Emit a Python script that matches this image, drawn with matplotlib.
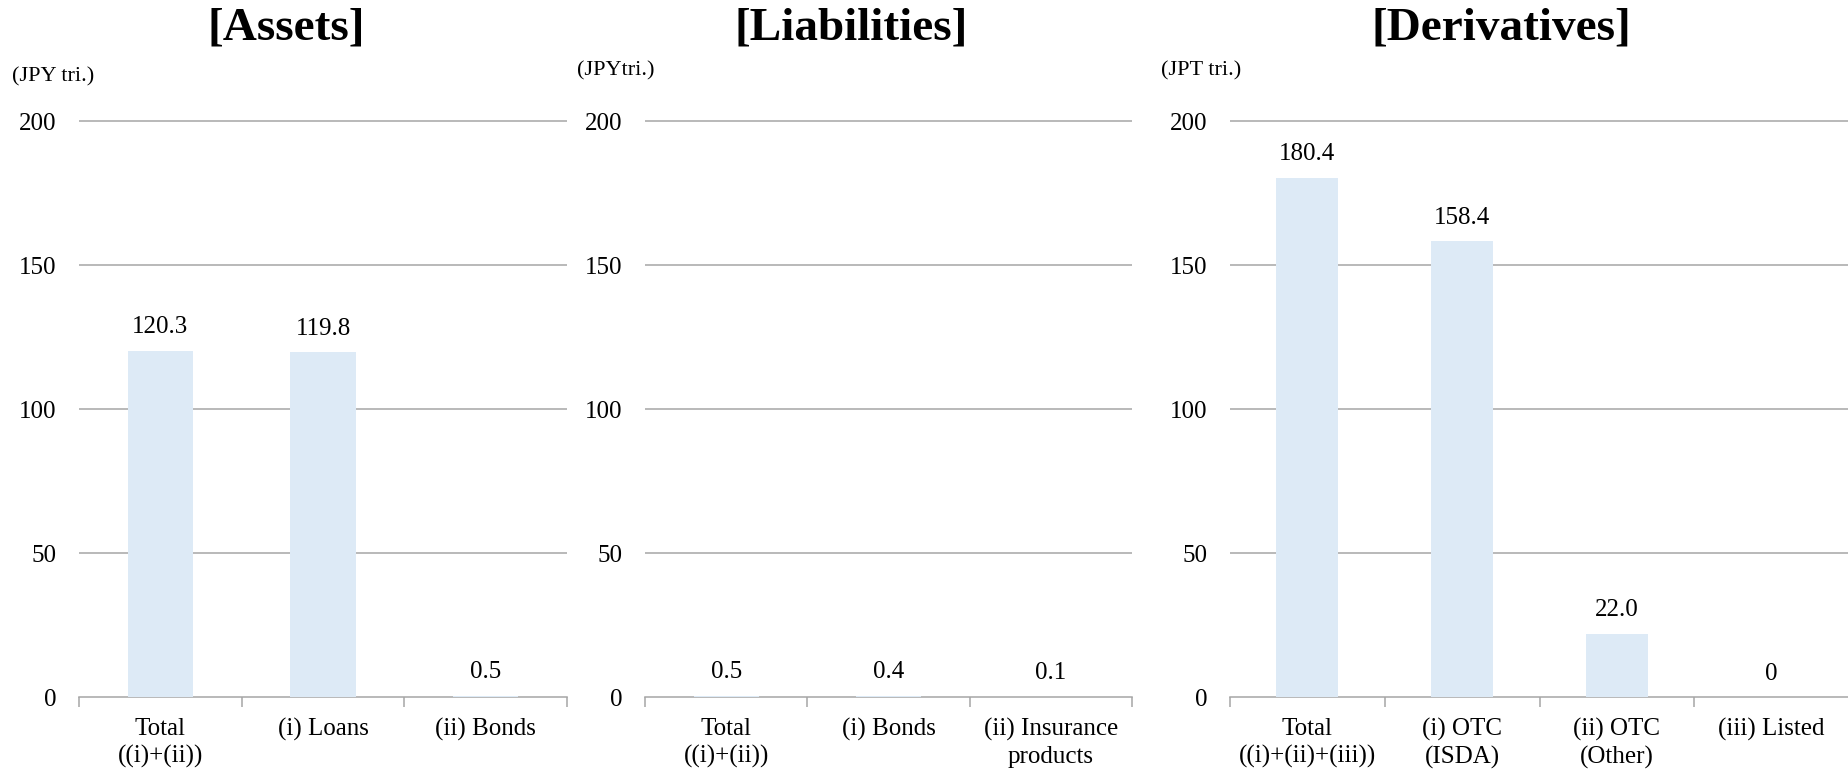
import matplotlib
matplotlib.use('Agg')
import matplotlib.pyplot as plt

plt.rcParams['font.family'] = ['Liberation Serif', 'DejaVu Serif']

# Panel data (JPY trillion)
titles = ['[Assets]', '[Liabilities]', '[Derivatives]']
units = ['(JPY tri.)', '(JPYtri.)', '(JPT tri.)']

assets_labels = ['Total\n((i)+(ii))', '(i) Loans', '(ii) Bonds']
assets_values = [120.3, 119.8, 0.5]
assets_text = ['120.3', '119.8', '0.5']

liab_labels = ['Total\n((i)+(ii))', '(i) Bonds', '(ii) Insurance\nproducts']
liab_values = [0.5, 0.4, 0.1]
liab_text = ['0.5', '0.4', '0.1']

deriv_labels = ['Total\n((i)+(ii)+(iii))', '(i) OTC\n(ISDA)', '(ii) OTC\n(Other)', '(iii) Listed']
deriv_values = [180.4, 158.4, 22.0, 0]
deriv_text = ['180.4', '158.4', '22.0', '0']

yticks = [0, 50, 100, 150, 200]

W, H = 1849, 775
fig = plt.figure(figsize=(W / 100, H / 100), dpi=100)

bar_color = '#DDEAF6'
grid_color = '#A6A6A6'

# pixel layout: (axis left, axis right, title centre x, unit label x, unit label y)
layout = [
    (79, 567, 286, 12, 77),
    (645, 1132, 851, 577, 71),
    (1230, 1849, 1501, 1161, 71),
]
y0_px = 697.0
y200_px = 121.5
ytop = 206
px_per_unit = (y0_px - y200_px) / 200

panels = [
    (assets_labels, assets_values, assets_text),
    (liab_labels, liab_values, liab_text),
    (deriv_labels, deriv_values, deriv_text),
]

for (labels, values, texts), (xl, xr, tx, ux, uy), title, unit in zip(panels, layout, titles, units):
    h_px = ytop * px_per_unit
    ax = fig.add_axes([xl / W, (H - y0_px) / H, (xr - xl) / W, h_px / H])
    n = len(labels)
    x = list(range(n))
    ax.bar(x, values, width=0.4, color=bar_color, zorder=3)
    ax.set_xlim(-0.5, n - 0.5)
    ax.set_ylim(0, ytop)

    for yv in yticks[1:]:
        ax.axhline(yv, color=grid_color, linewidth=1.1, zorder=1)

    for xi, v, t in zip(x, values, texts):
        ax.annotate(t, (xi, v), xytext=(0, 9), textcoords='offset points',
                    ha='center', va='bottom', fontsize=18)

    for s in ['top', 'right', 'left']:
        ax.spines[s].set_visible(False)
    ax.spines['bottom'].set_color(grid_color)
    ax.spines['bottom'].set_linewidth(1.1)

    ax.set_yticks(yticks)
    ax.set_yticklabels([str(v) for v in yticks], fontsize=18)
    ax.tick_params(axis='y', length=0, pad=16)

    # category boundary ticks on the x axis
    ax.set_xticks([i - 0.5 for i in range(n + 1)], minor=False)
    ax.set_xticklabels([''] * (n + 1))
    ax.tick_params(axis='x', which='major', direction='out', length=7,
                   color=grid_color, width=1.1)
    ax.set_xticks(x, minor=True)
    ax.set_xticklabels(labels, minor=True, fontsize=18, linespacing=1.3)
    ax.tick_params(axis='x', which='minor', length=0, pad=15)
    ax.patch.set_alpha(0)

    fig.text(tx / W, 1 - 29 / H, title, ha='center', va='center',
             fontsize=34, fontweight='bold')
    fig.text(ux / W, 1 - uy / H, unit, ha='left', va='center', fontsize=16)

fig.savefig('out.png', dpi=100)
